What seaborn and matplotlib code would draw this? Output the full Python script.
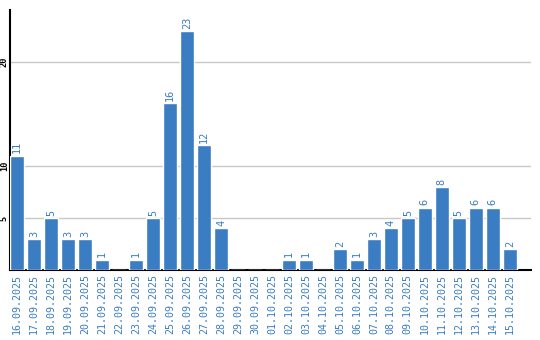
import matplotlib
matplotlib.use("Agg")
import matplotlib.pyplot as plt
import seaborn as sns
import pandas as pd

dates = ["16.09.2025", "17.09.2025", "18.09.2025", "19.09.2025", "20.09.2025",
         "21.09.2025", "22.09.2025", "23.09.2025", "24.09.2025", "25.09.2025",
         "26.09.2025", "27.09.2025", "28.09.2025", "29.09.2025", "30.09.2025",
         "01.10.2025", "02.10.2025", "03.10.2025", "04.10.2025", "05.10.2025",
         "06.10.2025", "07.10.2025", "08.10.2025", "09.10.2025", "10.10.2025",
         "11.10.2025", "12.10.2025", "13.10.2025", "14.10.2025", "15.10.2025"]
counts = [11, 3, 5, 3, 3, 1, 0, 1, 5, 16, 23, 12, 4, 0, 0,
          0, 1, 1, 0, 2, 1, 3, 4, 5, 6, 8, 5, 6, 6, 2]
y_ticks = [5, 10, 20]

BLUE = "#3b7dc2"
df = pd.DataFrame({"date": dates, "count": counts})

sns.set_style("white")
fig = plt.figure(figsize=(5.4, 3.4), dpi=100)
ax = fig.add_axes([0.019, 0.206, 0.964, 0.765])

sns.barplot(data=df, x="date", y="count", color=BLUE, saturation=1,
            width=0.82, ax=ax, zorder=3)

for i, v in enumerate(counts):
    if v > 0:
        ax.text(i, v + 0.2, str(v), rotation=90, ha="center", va="bottom",
                color=BLUE, fontsize=7.4, family="DejaVu Sans Mono", zorder=4)

ax.set_ylim(0, 25)
ax.set_xlim(-0.41, 30.24)
ax.set_yticks(y_ticks)
ax.set_yticklabels([str(t) for t in y_ticks], rotation=90, va="center",
                   fontsize=6.2, family="DejaVu Sans Mono", color="black",
                   fontweight="bold")
ax.set_xticks(range(len(dates)))
ax.set_xticklabels(dates, rotation=90, color=BLUE, fontsize=7.2,
                   family="DejaVu Sans Mono", va="top")
ax.tick_params(axis="both", length=0, pad=3)
ax.tick_params(axis="y", pad=1)
ax.yaxis.grid(True, color="#c8c8c8", linewidth=1, zorder=0)
ax.set_axisbelow(True)
ax.set_xlabel("")
ax.set_ylabel("")
for s in ["top", "right"]:
    ax.spines[s].set_visible(False)
for s in ["left", "bottom"]:
    ax.spines[s].set_color("black")
    ax.spines[s].set_linewidth(1.5)

fig.savefig("out.png", dpi=100)
